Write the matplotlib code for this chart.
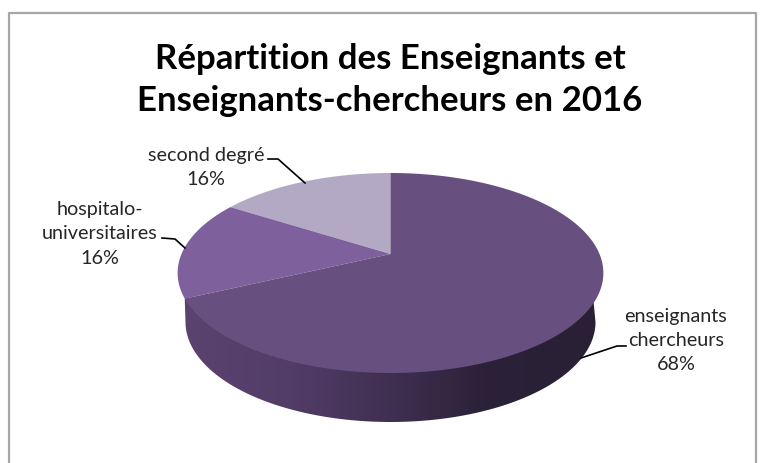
import numpy as np
import matplotlib
matplotlib.use('Agg')
import matplotlib.pyplot as plt
from matplotlib.colors import LinearSegmentedColormap
from matplotlib.patches import Polygon

categories = ['enseignants\nchercheurs', 'second degré', 'hospitalo-\nuniversitaires']
values = [68, 16, 16]
pct_labels = ['68%', '16%', '16%']
# clockwise from 12 o'clock, big slice is drawn going the other way round
order = ['second degré', 'hospitalo-\nuniversitaires', 'enseignants\nchercheurs']
colors = {'second degré': '#b4a9c4', 'hospitalo-\nuniversitaires': '#7e609c',
          'enseignants\nchercheurs': '#674f80'}
title = 'Répartition des Enseignants et\nEnseignants-chercheurs en 2016'

plt.rcParams['font.family'] = ['Lato', 'DejaVu Sans']

# pie geometry, in pixels of the picture
apex_x, apex_y = 390.5, 255
persp_k, persp_a, persp_b = 0.19, 209, 96.4
base_cx, base_cy, base_rx, base_ry = 390.5, 323, 205, 100


def rim(theta):
    # theta counted anticlockwise from the top of the pie, perspective projection
    u, v = -np.sin(theta), np.cos(theta)
    d = 1 + persp_k * v
    return apex_x + persp_a * u / d, apex_y - persp_b * v / d


fig = plt.figure(figsize=(7.65, 4.64), dpi=100)
ax = fig.add_axes([0, 0, 1, 1])
ax.axis('off')

by_name = dict(zip(categories, values))
total = sum(values)
edges = np.cumsum([0] + [by_name[n] for n in order]) / total * 2 * np.pi

# side wall with its shading
wall_x, wall_y = rim(edges[2])
t = np.linspace(np.pi, 0, 200)
base_x = base_cx + base_rx * np.cos(t)
base_y = base_cy + base_ry * np.sin(t)
right_x, right_y = rim(np.radians(282))
wall_pts = np.column_stack([
    np.r_[wall_x, base_x, right_x],
    np.r_[wall_y, base_y, right_y]])
wall_cmap = LinearSegmentedColormap.from_list('wall', [
    (0.0, '#5b4370'), (0.25, '#523c68'), (0.5, '#3f2f50'),
    (0.72, '#2b2138'), (1.0, '#2a2035')])
grad = ax.imshow(np.linspace(0, 1, 256).reshape(1, -1), cmap=wall_cmap, aspect='auto',
                 extent=[184, 604, 430, 270], zorder=1)
wall_patch = Polygon(wall_pts, closed=True, transform=ax.transData, fc='none', ec='none')
ax.add_patch(wall_patch)
grad.set_clip_path(wall_patch)

# top face
for i, name in enumerate(order):
    th = np.linspace(edges[i], edges[i + 1], 200)
    x, y = rim(th)
    ax.fill(np.r_[apex_x, x], np.r_[apex_y, y], color=colors[name], lw=0, zorder=2)

# leader lines
leaders = [([268, 278, 305], [160, 160, 184]),
           ([162, 175, 185], [239, 240, 249]),
           ([626, 617, 581], [347, 347, 359])]
for lx, ly in leaders:
    ax.plot(lx, ly, color='black', lw=1.2, zorder=3)

text_pos = {'second degré': (206, 168), 'hospitalo-\nuniversitaires': (100, 234),
            'enseignants\nchercheurs': (676, 341)}
for name, pct in zip(categories, pct_labels):
    px, py = text_pos[name]
    ax.text(px, py, name + '\n' + pct, ha='center', va='center', fontsize=14.2,
            color='#262626', linespacing=1.5, zorder=4)

ax.text(390, 80, title, ha='center', va='center', fontsize=25, fontweight='bold',
        color='black', linespacing=1.38)

# chart frame, runs off the bottom of the picture
ax.plot([9, 9, 756, 756], [470, 14, 14, 470], color='#a6a6a6', lw=1.6, zorder=5)

ax.set_xlim(0, 765)
ax.set_ylim(464, 0)
fig.savefig('out.png', dpi=100)
